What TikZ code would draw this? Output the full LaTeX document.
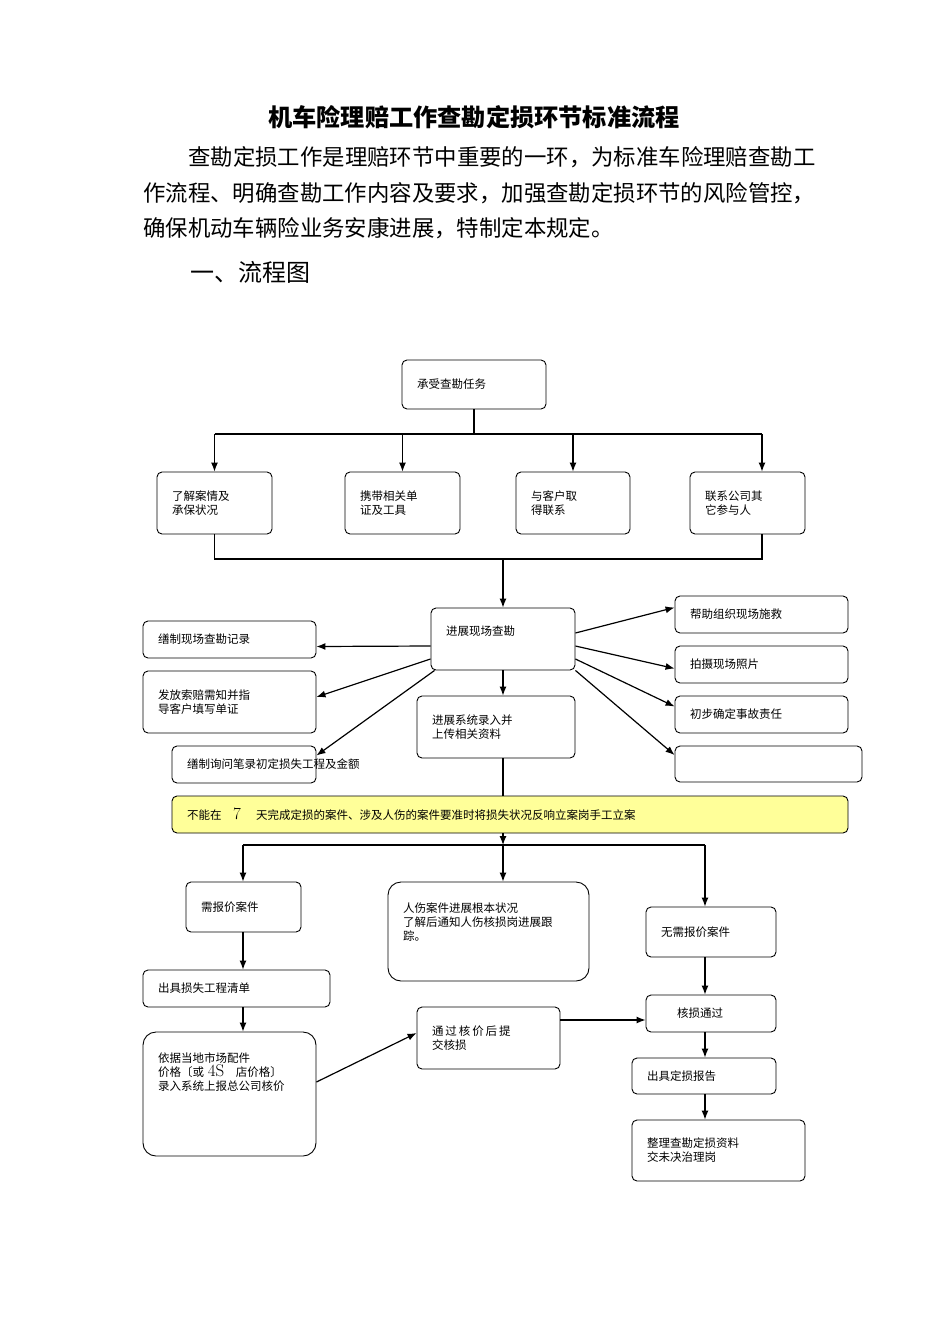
\documentclass[tikz,border=0pt]{standalone}
\usepackage{fontspec}
\newfontfamily\cjk{Noto Sans CJK SC}
\usetikzlibrary{arrows.meta,positioning}
\definecolor{notefill}{RGB}{255,255,153}

\begin{document}
\begin{tikzpicture}
[x=1pt,y=-1pt,
 box/.style={draw=black,rounded corners=5pt,line width=0.9pt,align=left,inner xsep=15pt,inner ysep=0pt,font=\cjk\fontsize{11.5}{14}\selectfont},
 wh/.code 2 args={\pgfmathsetmacro\boxtw{#1-30}\tikzset{minimum width=#1pt,minimum height=#2pt,text width=\boxtw pt}},
 line/.style={line width=1.2pt},
 arr/.style={line width=1.2pt,-{Latex[length=9pt,width=7pt]}},
 head/.style={anchor=west,inner sep=0pt,font=\cjk\fontsize{22.4}{22.4}\selectfont}]
\useasboundingbox (0,0) rectangle (950,1344);

% heading and text
\node[head,anchor=center,font=\cjk\bfseries\fontsize{24.2}{24.2}\selectfont] (title) at (474,117) {机车险理赔工作查勘定损环节标准流程};
\node[head] (p1) at (188,157) {查勘定损工作是理赔环节中重要的一环，为标准车险理赔查勘工};
\node[head] (p2) at (143,193) {作流程、明确查勘工作内容及要求，加强查勘定损环节的风险管控，};
\node[head] (p3) at (143,228) {确保机动车辆险业务安康进展，特制定本规定。};
\node[head,font=\cjk\fontsize{24}{24}\selectfont] (sec) at (190,272) {一、流程图};

% boxes
\node[box,wh={144}{49}] (task) at (474,384.5) {承受查勘任务};
\node[box,wh={115}{62}] (know) at (214.5,503) {了解案情及\\承保状况};
\node[box,wh={115}{62}] (carry) at (402.5,503) {携带相关单\\证及工具};
\node[box,wh={114}{62}] (contact) at (573,503) {与客户取\\得联系};
\node[box,wh={115}{62}] (others) at (747.5,503) {联系公司其\\它参与人};

\node[box,wh={144}{62}] (survey) at (503,639) {进展现场查勘\\[2pt]\mbox{}};
\node[box,wh={173}{37}] (record) at (229.5,639.5) {缮制现场查勘记录};
\node[box,wh={173}{62}] (notice) at (229.5,702) {发放索赔需知并指\\导客户填写单证};
\node[box,wh={144}{37}] (inquiry) at (244,764.5) {\mbox{缮制询问笔录初定损失工程及金额}};
\node[box,wh={158}{62}] (upload) at (496,727) {进展系统录入并\\上传相关资料};
\node[box,wh={173}{37}] (rescue) at (761.5,614.5) {帮助组织现场施救};
\node[box,wh={173}{37}] (photo) at (761.5,664.5) {拍摄现场照片};
\node[box,wh={173}{37}] (duty) at (761.5,714.5) {初步确定事故责任};
\node[box,wh={187}{36}] (blank) at (768.5,764) {};

\node[box,wh={676}{37},fill=notefill] (limit) at (510,814.5) {不能在\quad{\normalfont\fontsize{17}{17}\selectfont 7}\quad\ 天完成定损的案件、涉及人伤的案件要准时将损失状况反响立案岗手工立案};

\node[box,wh={115}{50}] (quote) at (243.5,907) {需报价案件};
\node[box,wh={201}{99},rounded corners=13pt] (injury) at (488.5,931.5) {人伤案件进展根本状况\\了解后通知人伤核损岗进展跟\\踪。\\[6pt]\mbox{}};
\node[box,wh={130}{50}] (noquote) at (711,932) {无需报价案件};
\node[box,wh={187}{37}] (list) at (236.5,988.5) {出具损失工程清单};
\node[box,wh={173}{124},rounded corners=13pt] (price) at (229.5,1094) {依据当地市场配件\\价格〔或 {\normalfont\fontsize{17}{17}\selectfont 4S}\quad 店价格〕\\录入系统上报总公司核价\\[30pt]\mbox{}};
\node[box,wh={143}{62}] (submit) at (488.5,1038) {通\,过\,核\,价\,后\,提\\交核损};
\node[box,wh={130}{37}] (pass) at (711,1013.5) {\hspace*{16pt}核损通过};
\node[box,wh={144}{36}] (report) at (704,1076) {出具定损报告};
\node[box,wh={173}{61}] (archive) at (718.5,1150.5) {整理查勘定损资料\\交未决治理岗};

% junctions
\coordinate (top) at (474,434);
\coordinate (top4) at (762,434);
\coordinate (bot) at (503,559);
\coordinate (bot4) at (762,559);
\coordinate (split) at (503,845);
\coordinate (rcol) at (705,845);
\coordinate (lcol) at (243,845);

% first level
\draw[line] (task.south) -- (top);
\draw[line] (know.north |- top) -- (top4);
\draw[arr] (know.north |- top) -- (know.north);
\draw[arr] (carry.north |- top) -- (carry.north);
\draw[arr] (contact.north |- top) -- (contact.north);
\draw[arr] (top4) -- (top4 |- others.north);
\draw[line] (know.south) |- (bot4) -- (bot4 |- others.south);
\draw[arr] (bot) -- (survey.north);

% around the survey
\draw[arr] ([yshift=-7pt]survey.west) -- ([yshift=-7pt]record.east);
\draw[arr] ([yshift=-20pt]survey.west) -- ([yshift=5pt]notice.east);
\draw[arr] ([xshift=4pt]survey.south west) -- ([yshift=9pt]inquiry.east);
\draw[arr] (survey.south) -- (survey.south |- upload.north);
\draw[arr] ([yshift=6pt]survey.east) -- ([yshift=7pt]rescue.west);
\draw[arr] ([yshift=-7pt]survey.east) -- ([yshift=-4pt]photo.west);
\draw[arr] ([yshift=-20pt]survey.east) -- ([yshift=8pt]duty.west);
\draw[arr] (survey.south east) -- ([yshift=9pt]blank.west);
\draw[line] (survey.south |- upload.south) -- (survey.south |- limit.north);

% after the note
\draw[arr] (survey.south |- limit.south) -- (split);
\draw[line] (lcol) -- (rcol);
\draw[arr] (lcol) -- (lcol |- quote.north);
\draw[arr] (split) -- (split |- injury.north);
\draw[arr] (rcol) -- (rcol |- noquote.north);
\draw[arr] (lcol |- quote.south) -- (lcol |- list.north);
\draw[arr] (lcol |- list.south) -- (lcol |- price.north);
\draw[arr] ([yshift=12pt]price.east) -- ([yshift=5pt]submit.west);
\draw[arr] ([yshift=18pt]submit.east) -- ([yshift=-6.5pt]pass.west);
\draw[arr] (rcol |- noquote.south) -- (rcol |- pass.north);
\draw[arr] (rcol |- pass.south) -- (rcol |- report.north);
\draw[arr] (rcol |- report.south) -- (rcol |- archive.north);
\end{tikzpicture}
\end{document}
